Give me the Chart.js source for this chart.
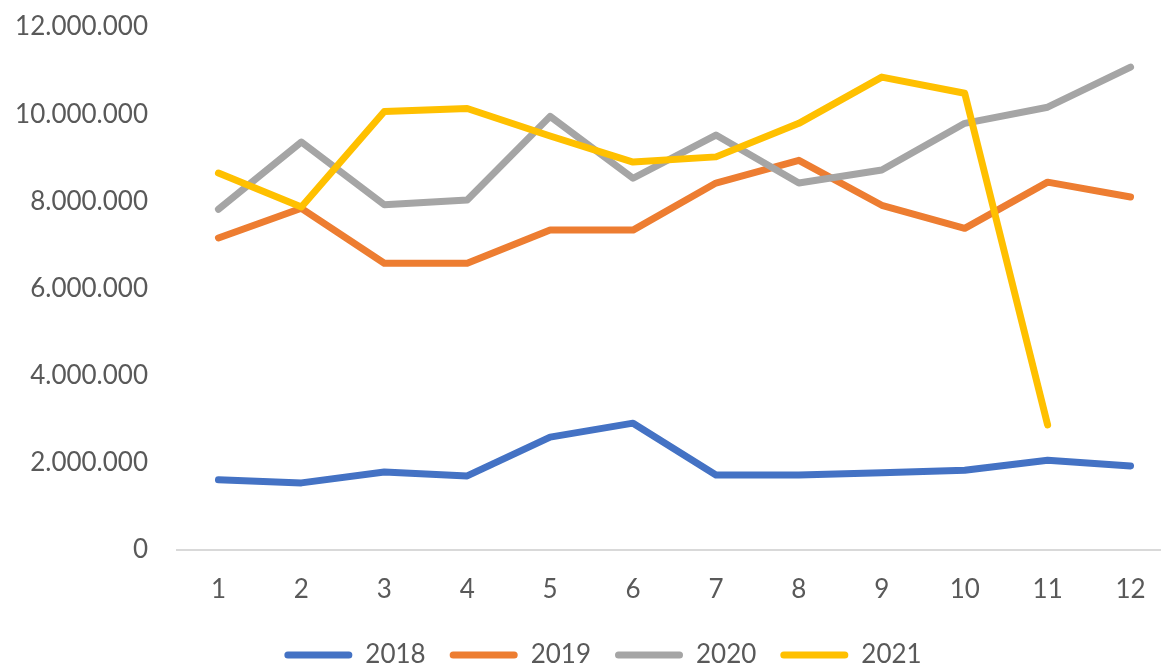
<!DOCTYPE html>
<html>
<head>
<meta charset="utf-8">
<script src="https://cdn.jsdelivr.net/npm/chart.js@4/dist/chart.umd.min.js"></script>
<style>
  html, body { margin: 0; padding: 0; background: #ffffff; overflow: hidden; }
  #wrap { width: 1172px; height: 678px; }
</style>
</head>
<body>
<div id="wrap"><canvas id="salesChart" width="1172" height="678"></canvas></div>
<script>
// 月份
var months = ['1', '2', '3', '4', '5', '6', '7', '8', '9', '10', '11', '12'];
// 各年度数据
var data2018 = [1610000, 1540000, 1790000, 1700000, 2590000, 2910000, 1720000, 1720000, 1770000, 1830000, 2060000, 1930000];
var data2019 = [7160000, 7840000, 6580000, 6580000, 7340000, 7340000, 8420000, 8940000, 7910000, 7380000, 8440000, 8100000];
var data2020 = [7820000, 9360000, 7920000, 8030000, 9950000, 8530000, 9520000, 8420000, 8720000, 9790000, 10160000, 11080000];
var data2021 = [8650000, 7870000, 10060000, 10130000, 9500000, 8900000, 9020000, 9790000, 10850000, 10480000, 2870000, null];
// 纵轴刻度
var yMin = 0;
var yMax = 12000000;
var yStep = 2000000;

var textColor = '#595959';
var fontFamily = 'Lato, "Open Sans", "Liberation Sans", sans-serif';

// 千位用点号分隔
function formatNum(v) {
    return String(v).replace(/\B(?=(\d{3})+(?!\d))/g, '.');
}

function makeLine(label, values, color, order) {
    return {
        label: label,
        data: values,
        borderColor: color,
        backgroundColor: color,
        borderWidth: 7,
        borderCapStyle: 'round',
        borderJoinStyle: 'round',
        pointRadius: 0,
        pointHoverRadius: 0,
        tension: 0,
        fill: false,
        order: order
    };
}

// 图例整体右移一点，居中于更宽的区域
const legendShift = {
    id: 'legendShift',
    afterLayout: function (chart) {
        if (chart.legend) {
            chart.legend.left += 34;
        }
    }
};

const ctx = document.getElementById('salesChart').getContext('2d');
let salesChart = new Chart(ctx, {
    type: 'line',
    data: {
        labels: months,
        datasets: [
            makeLine('2018', data2018, '#4472C4', 4),
            makeLine('2019', data2019, '#ED7D31', 3),
            makeLine('2020', data2020, '#A5A5A5', 2),
            makeLine('2021', data2021, '#FFC000', 1)
        ]
    },
    plugins: [legendShift],
    options: {
        responsive: false,
        animation: false,
        devicePixelRatio: 1,
        layout: {
            padding: { top: 27, left: 0, right: 0, bottom: 0 }
        },
        plugins: {
            tooltip: { enabled: false },
            legend: {
                position: 'bottom',
                labels: {
                    boxWidth: 68,
                    boxHeight: 7,
                    padding: 24,
                    color: textColor,
                    font: { family: fontFamily, size: 26 },
                    // 图例按数据集原顺序排列，线段样式
                    generateLabels: function (chart) {
                        return chart.data.datasets.map(function (ds, i) {
                            return {
                                text: ds.label,
                                fillStyle: ds.borderColor,
                                strokeStyle: ds.borderColor,
                                lineWidth: 0,
                                borderRadius: 3.5,
                                fontColor: textColor,
                                hidden: !chart.isDatasetVisible(i),
                                datasetIndex: i
                            };
                        });
                    },
                    useBorderRadius: true,
                    borderRadius: 3.5
                }
            }
        },
        scales: {
            x: {
                offset: true,
                grid: { display: false, drawTicks: false },
                border: { display: true, color: '#D9D9D9', width: 2 },
                ticks: {
                    color: textColor,
                    font: { family: fontFamily, size: 26 },
                    padding: 24,
                    maxRotation: 0,
                    autoSkip: false
                },
                afterFit: function (scale) {
                    scale.height = 68;
                }
            },
            y: {
                min: yMin,
                max: yMax,
                grid: { display: false, drawTicks: false },
                border: { display: false },
                ticks: {
                    stepSize: yStep,
                    color: textColor,
                    font: { family: fontFamily, size: 26 },
                    padding: 29,
                    callback: function (value) {
                        return formatNum(value);
                    }
                },
                afterFit: function (scale) {
                    scale.width = 177;
                    // 顶部留白由 layout.padding 控制
                    scale.paddingTop = 0;
                    scale.paddingBottom = 0;
                }
            }
        }
    }
});
</script>
</body>
</html>
